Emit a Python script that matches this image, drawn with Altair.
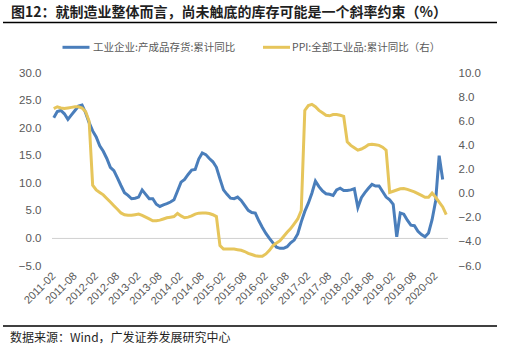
import altair as alt
import pandas as pd

# ---- data ----
months = list(pd.date_range("2011-02-01", periods=112, freq="MS").strftime("%Y-%m"))

inventory_yoy = [
    21.9, 23.0, 23.2, 22.6, 21.6, 22.4, 23.2, 24.0, 24.2, 22.8,
    21.0, 19.5, 18.4, 16.8, 15.8, 14.5, 12.9, 12.3, 11.0, 9.6,
    8.3, 7.8, 7.2, 7.3, 7.5, 8.8, 8.0, 7.2, 7.2, 6.2,
    5.8, 6.1, 6.3, 6.6, 7.0, 8.6, 10.2, 10.7, 11.6, 12.4,
    12.5, 14.4, 15.5, 15.2, 14.5, 13.9, 12.9, 10.8, 8.8, 8.0,
    7.3, 7.2, 7.5, 6.9, 6.0, 5.1, 4.7, 4.6, 3.2, 2.0,
    0.9, 0.0, -0.8, -1.6, -1.8, -1.8, -1.5, -0.8, -0.3, 0.8,
    3.0, 4.9, 6.4, 8.2, 10.4, 9.4, 8.6, 8.1, 8.0, 7.8,
    8.8, 9.1, 8.7, 8.7, 8.8, 9.0, 5.6, 7.4, 8.3, 9.1,
    9.8, 9.5, 9.5, 8.5, 7.5, 7.0, 6.2, 0.3, 4.6, 4.4,
    3.3, 2.4, 2.3, 1.3, 0.7, 0.3, 1.0, 3.4, 6.8, 15.0, 10.7,
]

ppi_yoy = [
    7.05, 7.2, 7.1, 7.05, 7.1, 7.15, 7.2, 7.2, 7.1, 6.8,
    6.0, 0.7, 0.3, 0.1, -0.1, -0.4, -0.7, -1.0, -1.3, -1.6,
    -1.75, -1.8, -1.8, -1.75, -1.7, -1.8, -1.95, -2.1, -2.25, -2.25,
    -2.2, -2.1, -2.0, -1.95, -1.9, -1.64, -1.85, -2.0, -1.95, -1.85,
    -1.7, -1.62, -1.6, -1.6, -1.65, -1.75, -1.9, -4.3, -4.6, -4.6,
    -4.6, -4.6, -4.65, -4.7, -4.8, -4.95, -5.05, -5.15, -5.2, -5.2,
    -5.0, -4.7, -4.3, -4.1, -3.9, -3.55, -3.2, -2.9, -2.5, -2.1,
    -1.4, 6.9, 7.3, 7.4, 7.2, 6.9, 6.7, 6.5, 6.45, 6.55,
    6.55, 6.5, 6.4, 4.3, 4.0, 3.8, 3.6, 3.7, 3.85, 4.05,
    4.1, 4.05, 4.0, 3.85, 3.6, 0.1, 0.2, 0.3, 0.4, 0.43,
    0.35, 0.25, 0.15, 0.0, -0.15, -0.3, -0.3, 0.05, -0.3, -0.7, -1.1, -1.75,
]

tick_labels = months[::6]
left_ticks = [-5, 0, 5, 10, 15, 20, 25, 30]
right_ticks = [-6, -4, -2, 0, 2, 4, 6, 8, 10]

title_text = "图12：就制造业整体而言，尚未触底的库存可能是一个斜率约束（%）"
legend_blue = "工业企业:产成品存货:累计同比"
legend_yellow = "PPI:全部工业品:累计同比（右）"
source_text = "数据来源：Wind，广发证券发展研究中心"

BLUE = "#4A7EBB"
YELLOW = "#E6C55B"
LABEL = "#595959"
FONT = "Liberation Sans"
CJK = "Noto Sans CJK SC"

blue_df = pd.DataFrame({"month": months[:len(inventory_yoy)], "v": inventory_yoy})
yel_df = pd.DataFrame({"month": months, "v": ppi_yoy})

xenc = alt.X(
    "month:O",
    scale=alt.Scale(domain=months),
    axis=alt.Axis(
        values=tick_labels, labelAngle=315, labelAlign="right", labelBaseline="middle",
        labelPadding=8, labelFont=FONT, labelFontSize=11, labelColor=LABEL,
        labelOverlap=False, domain=False, ticks=False, title=None, grid=False,
    ),
)

left_axis = alt.Axis(
    orient="left", values=left_ticks, format=".1f", title=None, grid=False,
    domain=False, ticks=False, labelPadding=11, labelFont=FONT,
    labelFontSize=11.5, labelColor=LABEL, labelOverlap=False,
)
left_scale = alt.Scale(domain=[-5, 30], nice=False, zero=False)

zero_rule = alt.Chart(pd.DataFrame({"v": [0.0]})).mark_rule(color="#D0D0D0", strokeWidth=1).encode(
    y=alt.Y("v:Q", scale=left_scale, axis=left_axis)
)

blue_line = alt.Chart(blue_df).mark_line(color=BLUE, strokeWidth=3).encode(
    x=xenc,
    y=alt.Y("v:Q", scale=left_scale, axis=left_axis),
)

left_layer = alt.layer(zero_rule, blue_line)

yel_line = alt.Chart(yel_df).mark_line(color=YELLOW, strokeWidth=3).encode(
    x=xenc,
    y=alt.Y(
        "v:Q",
        scale=alt.Scale(domain=[-6, 10], nice=False, zero=False),
        axis=alt.Axis(
            orient="right", values=right_ticks, format=".1f", title=None, grid=False,
            domain=False, ticks=False, labelPadding=10, labelFont=FONT,
            labelFontSize=11.5, labelColor=LABEL, labelOverlap=False,
        ),
    ),
)

one = pd.DataFrame({"a": [0]})

title_mark = alt.Chart(one).mark_text(
    align="left", baseline="middle", font=CJK, fontSize=14, fontWeight="bold", color="#1F1F1F"
).encode(x=alt.value(-41), y=alt.value(-60), text=alt.value(title_text))

top_line = alt.Chart(one).mark_rule(color="#000000", strokeWidth=1.5).encode(
    x=alt.value(-49), x2=alt.value(445), y=alt.value(-50.5)
)
bottom_line = alt.Chart(one).mark_rule(color="#000000", strokeWidth=1.5).encode(
    x=alt.value(-49), x2=alt.value(445), y=alt.value(253)
)

leg_blue_line = alt.Chart(one).mark_rule(color=BLUE, strokeWidth=3).encode(
    x=alt.value(10.5), x2=alt.value(37.5), y=alt.value(-25.7)
)
leg_blue_text = alt.Chart(one).mark_text(
    align="left", baseline="middle", font=CJK, fontSize=10.5, color=LABEL
).encode(x=alt.value(41), y=alt.value(-25.5), text=alt.value(legend_blue))

leg_yel_line = alt.Chart(one).mark_rule(color=YELLOW, strokeWidth=3).encode(
    x=alt.value(211), x2=alt.value(238), y=alt.value(-25.7)
)
leg_yel_text = alt.Chart(one).mark_text(
    align="left", baseline="middle", font=CJK, fontSize=10.5, color=LABEL
).encode(x=alt.value(240), y=alt.value(-25.5), text=alt.value(legend_yellow))

source_mark = alt.Chart(one).mark_text(
    align="left", baseline="middle", font=CJK, fontSize=12, color="#1F1F1F"
).encode(x=alt.value(-42), y=alt.value(265), text=alt.value(source_text))

chart = alt.layer(
    left_layer, yel_line,
    title_mark, top_line, bottom_line,
    leg_blue_line, leg_blue_text, leg_yel_line, leg_yel_text, source_mark,
).resolve_scale(y="independent").properties(
    width=396, height=193,
    autosize=alt.AutoSizeParams(type="none"),
    padding={"left": 52, "top": 73, "right": 59, "bottom": 85},
    background="white",
).configure_view(stroke=None)

chart.save("out.html", embed_options={"renderer": "svg", "actions": False})
